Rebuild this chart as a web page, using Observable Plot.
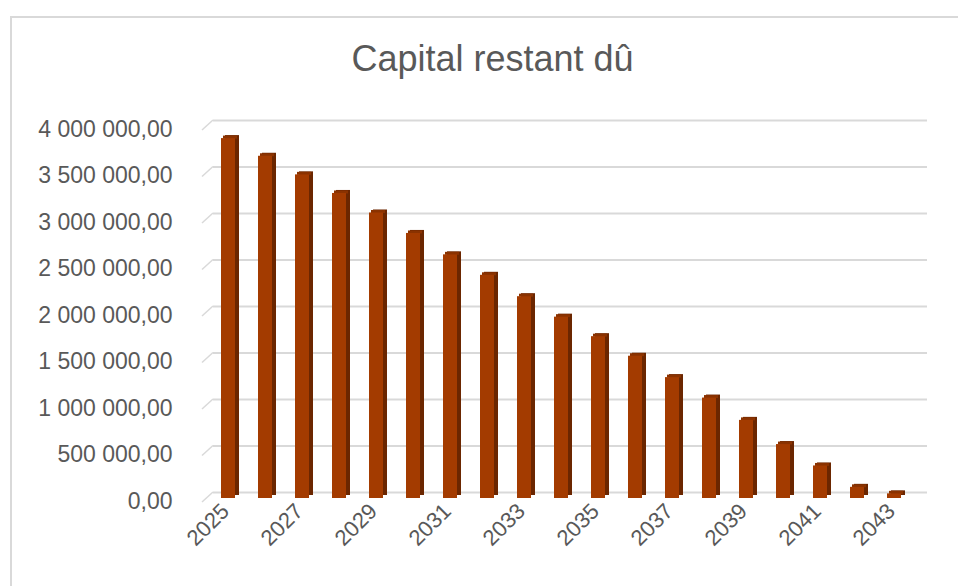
<!DOCTYPE html>
<html><head><meta charset="utf-8">
<script src="https://cdn.jsdelivr.net/npm/d3@7"></script>
<script src="https://cdn.jsdelivr.net/npm/@observablehq/plot@0.6"></script>
<style>
html,body{margin:0;padding:0;background:#fff;overflow:hidden;width:958px;height:586px;}
#frame{position:absolute;left:10px;top:16px;width:1000px;height:700px;border:2px solid #d9d9d9;box-sizing:border-box;}
#title{position:relative;height:100px;}
#title span{position:absolute;left:0;width:985px;top:41px;text-align:center;font-family:"Liberation Sans",Arial,sans-serif;font-size:36px;line-height:36px;color:#595959;}
#chart svg{display:block;}
</style></head><body>
<div id="frame"></div>
<div id="title"><span>Capital restant dû</span></div>
<div id="chart"></div>
<script>
const years = ["2025","2026","2027","2028","2029","2030","2031","2032","2033","2034","2035","2036","2037","2038","2039","2040","2041","2042","2043"];
const capital = [3870000,3680000,3480000,3280000,3070000,2850000,2620000,2400000,2170000,1950000,1740000,1530000,1300000,1080000,840000,580000,350000,120000,50000];
const yTicks = [0,500000,1000000,1500000,2000000,2500000,3000000,3500000,4000000];
const xTickYears = ["2025","2027","2029","2031","2033","2035","2037","2039","2041","2043"];

const data = years.map((y, i) => ({year: y, value: capital[i]}));
const fmt = d3.formatLocale({decimal: ",", thousands: " ", grouping: [3], currency: ["", ""]}).format(",.2f");

const slants = (index, scales, values, dimensions) => {
  const g = d3.create("svg:g").attr("stroke", "#d9d9d9").attr("stroke-width", 1.5);
  for (const t of yTicks) {
    const y = scales.y(t);
    g.append("line")
      .attr("x1", dimensions.marginLeft - 4).attr("y1", y + 4)
      .attr("x2", dimensions.marginLeft + 7).attr("y2", y - 6);
  }
  return g.node();
};

const chart = Plot.plot({
  width: 958,
  height: 486,
  marginLeft: 206,
  marginRight: 42,
  marginTop: 26,
  marginBottom: 88,
  style: {fontFamily: "'Liberation Sans', Arial, sans-serif", color: "#595959", background: "transparent"},
  x: {type: "band", domain: years, paddingInner: 0.62, paddingOuter: 0.31, axis: null, label: null},
  y: {domain: [0, 4000000], axis: null, label: null},
  marks: [
    Plot.ruleY(yTicks, {y: d => d, stroke: "#d9d9d9", strokeWidth: 2, dy: -6, dx: 11, insetLeft: -4}),
    slants,
    Plot.barY(data, {x: "year", y: "value", fill: "#6b2600", dx: 4, dy: -3}),
    Plot.tickY(data, {x: "year", y: "value", stroke: "#8a3200", strokeWidth: 3, dx: 2, dy: -1.5}),
    Plot.barY(data, {x: "year", y: "value", fill: "#a33b00"}),
    Plot.axisY({ticks: yTicks, tickSize: 0, tickPadding: 34, tickFormat: fmt, fontSize: 23, dy: 3, label: null}),
    Plot.axisX({ticks: xTickYears, tickRotate: -45, tickSize: 0, tickPadding: 9, fontSize: 22, dx: -3, label: null})
  ]
});
document.getElementById("chart").appendChild(chart);
</script>
</body></html>
